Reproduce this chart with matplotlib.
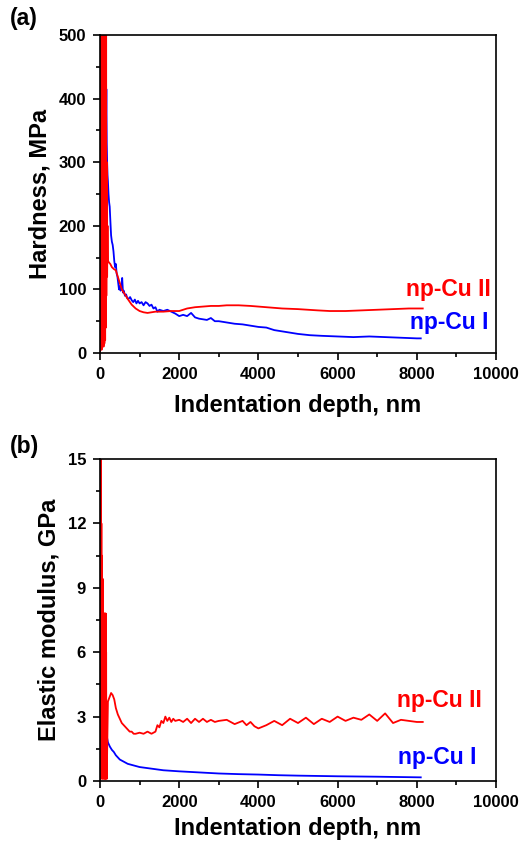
import matplotlib.pyplot as plt
import numpy as np

plt.rcParams['font.family'] = ['Liberation Sans', 'DejaVu Sans']
plt.rcParams['font.weight'] = 'bold'

# (a) hardness, MPa
h1_x = [10, 20, 30, 40, 50, 60, 70, 80, 90, 100, 110, 120, 130, 140, 150, 160, 170, 180, 190, 200,
        215, 230, 245, 260, 280, 300, 320, 340, 360, 380, 400, 420, 440, 460, 480, 500, 520,
        540, 560, 580, 600, 630, 660, 690, 720, 760, 800, 840, 880, 920, 960, 1000, 1050,
        1100, 1150, 1200, 1250, 1300, 1350, 1400, 1450, 1500, 1600, 1700, 1800, 1900, 2000,
        2100, 2200, 2300, 2400, 2500, 2600, 2700, 2800, 2900, 3000, 3200, 3400, 3600, 3800,
        4000, 4200, 4400, 4600, 4800, 5000, 5300, 5600, 6000, 6400, 6800, 7200, 7600, 8000, 8100]
h1_y = [500, 480, 350, 180, 120, 150, 260, 330, 200, 300, 380, 260, 330, 300, 350, 415, 330, 300,
        280, 270, 250, 237, 230, 210, 185, 175, 170, 160, 145, 135, 140, 125, 120, 110, 100, 105,
        98, 105, 118, 95, 98, 90, 92, 86, 85, 88, 83, 80, 84, 78, 82, 78, 80, 75, 80, 78, 74, 76,
        70, 72, 65, 68, 66, 68, 65, 62, 58, 60, 58, 63, 56, 54, 53, 52, 55, 50, 50, 48, 46, 45, 43,
        41, 40, 36, 34, 32, 30, 28, 27, 26, 25, 26, 25, 24, 23, 23]
h2_x = [0, 5, 10, 15, 20, 25, 30, 35, 40, 45, 50, 55, 60, 65, 70, 75, 80, 85, 90, 95, 100, 105,
        110, 115, 120, 125, 130, 135, 140, 145, 150, 155, 160, 170, 180, 190,
        200, 230, 260, 300, 350, 400, 450, 500, 550, 600, 700, 800, 900, 1000, 1100, 1200, 1400,
        1600, 1800, 2000, 2200, 2400, 2600, 2800, 3000, 3200, 3500, 3800, 4200, 4600, 5000, 5500,
        5800, 6200, 6600, 7000, 7400, 7800, 8150]
h2_y = [0, 400, 20, 500, 10, 480, 30, 500, 5, 500, 60, 500, 15, 500, 20, 500, 40, 500, 10, 500,
        25, 500, 15, 500, 30, 500, 20, 500, 60, 500, 40, 500, 90, 300, 120, 200,
        145, 142, 140, 135, 132, 130, 120, 110, 100, 95, 85, 76, 70, 66, 64, 63, 65, 65, 66, 66,
        70, 72, 73, 74, 74, 75, 75, 74, 72, 70, 69, 67, 66, 66, 67, 68, 69, 70, 70]

# (b) elastic modulus, GPa
e1_x = [20, 30, 40, 50, 60, 70, 80, 90, 100, 120, 140, 160, 180, 200, 250, 300, 350, 400, 450,
        500, 600, 700, 800, 900, 1000, 1200, 1400, 1600, 2000, 2500, 3000, 3500, 4000, 4500,
        5000, 6000, 7000, 8100]
e1_y = [6.0, 10.2, 8.5, 6.5, 5.5, 8.0, 4.5, 5.0, 3.5, 3.0, 2.6, 2.2, 2.0, 1.8, 1.6, 1.45, 1.35,
        1.2, 1.1, 1.0, 0.9, 0.8, 0.75, 0.7, 0.65, 0.6, 0.55, 0.5, 0.45, 0.4, 0.35, 0.32, 0.3, 0.27,
        0.25, 0.22, 0.2, 0.17]
e2_x = [0, 5, 10, 15, 20, 25, 30, 35, 40, 45, 50, 55, 60, 65, 70, 75, 80, 85, 90, 95, 100, 105,
        110, 115, 120, 125, 130, 135, 140, 145, 150, 155, 160, 165, 170, 200, 240,
        280, 320, 360, 400, 450, 500, 550, 600, 650, 700, 750, 800, 850, 900, 1000, 1100, 1200,
        1300, 1400, 1450, 1500, 1550, 1600, 1650, 1700, 1750, 1800, 1850, 1900, 2000, 2100, 2200,
        2300, 2400, 2500, 2600, 2700, 2800, 2900, 3000, 3200, 3400, 3600, 3700, 3800, 3900, 4000,
        4200, 4400, 4600, 4800, 5000, 5200, 5400, 5600, 5800, 6000, 6200, 6400, 6600, 6800, 7000,
        7200, 7400, 7600, 7800, 8000, 8150]
e2_y = [0, 15, 0.2, 15, 0.1, 14, 0.5, 12, 0.3, 10.5, 0.2, 9.4, 0.1, 9.4, 0.5, 9.4, 0.2, 7.0,
        0.1, 7.8, 0.3, 7.8, 0.2, 7.8, 0.1, 6.8, 0.2, 7.8, 0.1, 7.8, 0.3, 6.0, 0.2, 3.6, 0.1, 3.7,
        3.9, 4.1, 4.0, 3.8, 3.4, 3.1, 2.9, 2.7, 2.6, 2.5, 2.4, 2.3, 2.3, 2.2, 2.2, 2.25, 2.2, 2.3,
        2.2, 2.3, 2.6, 2.5, 2.8, 2.7, 3.0, 2.8, 2.95, 2.75, 2.9, 2.8, 2.85, 2.75, 2.9, 2.7, 2.9,
        2.75, 2.9, 2.75, 2.85, 2.75, 2.8, 2.85, 2.65, 2.8, 2.6, 2.75, 2.55, 2.45, 2.6, 2.8, 2.6,
        2.9, 2.7, 2.95, 2.65, 2.9, 2.75, 3.0, 2.8, 2.95, 2.85, 3.1, 2.8, 3.15, 2.7, 2.85, 2.8, 2.75,
        2.75]

fig = plt.figure(figsize=(5.22, 8.42), dpi=100)
ax1 = fig.add_axes([100 / 522, 1 - 353 / 842, 396 / 522, 318 / 842])
ax2 = fig.add_axes([100 / 522, 1 - 781 / 842, 396 / 522, 322 / 842])

ax1.plot(h1_x, h1_y, color='#0000ff', lw=1.3)
ax1.plot(h2_x, h2_y, color='#ff0000', lw=1.3)
ax2.plot(e1_x, e1_y, color='#0000ff', lw=1.3)
ax2.plot(e2_x, e2_y, color='#ff0000', lw=1.3)

ax1.set_ylim(0, 500)
ax1.set_yticks([0, 100, 200, 300, 400, 500])
ax2.set_ylim(0, 15)
ax2.set_yticks([0, 3, 6, 9, 12, 15])

for ax, ylab, lp in [(ax1, 'Hardness, MPa', 9), (ax2, 'Elastic modulus, GPa', 5)]:
    ax.set_xlim(0, 10000)
    ax.set_xticks([0, 2000, 4000, 6000, 8000, 10000])
    ax.set_xticks(np.arange(1000, 10000, 2000), minor=True)
    yt = ax.get_yticks()
    ax.set_yticks((yt[:-1] + yt[1:]) / 2, minor=True)
    ax.tick_params(which='both', direction='out', top=False, right=False, width=1.2)
    ax.tick_params(which='major', length=5, labelsize=12, pad=5)
    ax.tick_params(which='minor', length=3)
    for s in ax.spines.values():
        s.set_linewidth(1.2)
    ax.set_xlabel('Indentation depth, nm', fontsize=17, fontweight='bold', labelpad=lp)
    ax.set_ylabel(ylab, fontsize=17, fontweight='bold', labelpad=5)

ax1.text(0.988, 0.20, 'np-Cu II', color='#ff0000', fontsize=16.5, fontweight='bold',
         transform=ax1.transAxes, ha='right', va='center')
ax1.text(0.982, 0.096, 'np-Cu I', color='#0000ff', fontsize=16.5, fontweight='bold',
         transform=ax1.transAxes, ha='right', va='center')
ax2.text(0.965, 0.25, 'np-Cu II', color='#ff0000', fontsize=16.5, fontweight='bold',
         transform=ax2.transAxes, ha='right', va='center')
ax2.text(0.95, 0.073, 'np-Cu I', color='#0000ff', fontsize=16.5, fontweight='bold',
         transform=ax2.transAxes, ha='right', va='center')

fig.text(10 / 522, 1 - 18 / 842, '(a)', fontsize=16.5, fontweight='bold', va='center')
fig.text(10 / 522, 1 - 446 / 842, '(b)', fontsize=16.5, fontweight='bold', va='center')

fig.savefig('out.png', dpi=100)
